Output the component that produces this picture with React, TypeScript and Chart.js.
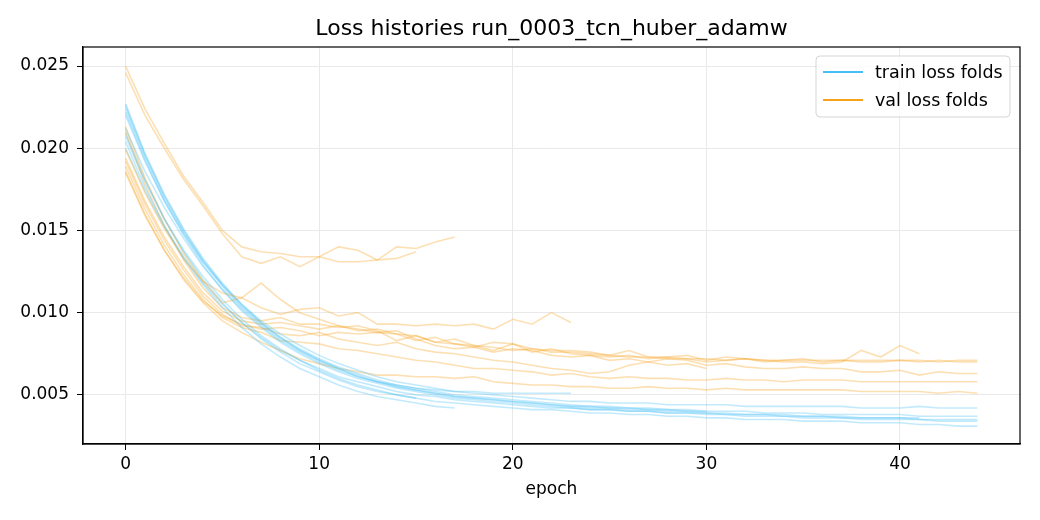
import { useEffect, useRef } from 'react';
import { Chart, registerables } from 'chart.js';

Chart.register(...registerables);

const TITLE = 'Loss histories run_0003_tcn_huber_adamw';
const X_LABEL = 'epoch';
const TRAIN_LABEL = 'train loss folds';
const VAL_LABEL = 'val loss folds';
const TRAIN_COLOR = '#45bff5';
const VAL_COLOR = '#f7a21b';
const X_TICKS = [0, 10, 20, 30, 40];
const Y_TICKS = [0.005, 0.01, 0.015, 0.02, 0.025];

// train loss per fold (one entry per epoch)
const trainA = [0.0204, 0.0176, 0.0153, 0.0133, 0.0117, 0.0103, 0.0091, 0.0081, 0.0073, 0.0066, 0.0061, 0.0056, 0.0052, 0.0049, 0.0047, 0.0045, 0.0043, 0.0042];
const trainB = [0.0207, 0.0180, 0.0157, 0.0138, 0.0122, 0.0108, 0.0096, 0.0086, 0.0078, 0.0071, 0.0065, 0.0060, 0.0056, 0.0053, 0.0050, 0.0048];
const trainC = [0.0212, 0.0186, 0.0164, 0.0145, 0.0128, 0.0114, 0.0102, 0.0092, 0.0083, 0.0076, 0.0070, 0.0065, 0.0061, 0.0058, 0.0056, 0.0054, 0.0053, 0.0052, 0.0052, 0.0051, 0.0051, 0.0051, 0.0051, 0.0051];
const trainD = [0.0227, 0.0197, 0.0172, 0.0151, 0.0133, 0.0118, 0.0105, 0.0094, 0.0085, 0.0077, 0.0071, 0.0066, 0.0062, 0.0058, 0.0055, 0.0053, 0.0051, 0.0049, 0.0048, 0.0047, 0.0046, 0.0045, 0.0044, 0.0043, 0.0043, 0.0042, 0.0042, 0.0041, 0.0041, 0.0040, 0.0040];
const trainE = [0.0224, 0.0195, 0.0170, 0.0149, 0.0131, 0.0116, 0.0103, 0.0093, 0.0084, 0.0077, 0.0071, 0.0066, 0.0061, 0.0058, 0.0055, 0.0053, 0.0051, 0.0049, 0.0048, 0.0047, 0.0046, 0.0045, 0.0044, 0.0043, 0.0042, 0.0042, 0.0041, 0.0041, 0.0040, 0.0040, 0.0039, 0.0039, 0.0038, 0.0038, 0.0038, 0.0037, 0.0037, 0.0037, 0.0036, 0.0036, 0.0036, 0.0036];
const trainF = [0.0220, 0.0192, 0.0168, 0.0148, 0.0131, 0.0117, 0.0105, 0.0095, 0.0087, 0.0080, 0.0074, 0.0069, 0.0065, 0.0061, 0.0058, 0.0056, 0.0054, 0.0052, 0.0051, 0.0050, 0.0049, 0.0048, 0.0047, 0.0046, 0.0046, 0.0045, 0.0045, 0.0045, 0.0044, 0.0044, 0.0044, 0.0044, 0.0043, 0.0043, 0.0043, 0.0043, 0.0043, 0.0043, 0.0042, 0.0042, 0.0042, 0.0043, 0.0042, 0.0042, 0.0042];
const trainG = [0.0226, 0.0196, 0.0171, 0.0150, 0.0132, 0.0117, 0.0104, 0.0094, 0.0085, 0.0078, 0.0072, 0.0067, 0.0063, 0.0059, 0.0056, 0.0054, 0.0052, 0.0050, 0.0049, 0.0048, 0.0047, 0.0046, 0.0045, 0.0044, 0.0043, 0.0043, 0.0042, 0.0042, 0.0041, 0.0041, 0.0040, 0.0040, 0.0040, 0.0039, 0.0039, 0.0039, 0.0038, 0.0038, 0.0038, 0.0038, 0.0038, 0.0037, 0.0037, 0.0037, 0.0037];
const trainH = [0.0222, 0.0193, 0.0168, 0.0147, 0.0129, 0.0114, 0.0101, 0.0091, 0.0082, 0.0075, 0.0069, 0.0064, 0.0060, 0.0057, 0.0054, 0.0052, 0.0050, 0.0048, 0.0047, 0.0046, 0.0045, 0.0044, 0.0043, 0.0042, 0.0041, 0.0041, 0.0040, 0.0040, 0.0039, 0.0039, 0.0038, 0.0038, 0.0037, 0.0037, 0.0037, 0.0036, 0.0036, 0.0036, 0.0035, 0.0035, 0.0035, 0.0035, 0.0034, 0.0034, 0.0034];
const trainI = [0.0209, 0.0181, 0.0157, 0.0137, 0.0120, 0.0106, 0.0094, 0.0084, 0.0076, 0.0069, 0.0064, 0.0059, 0.0055, 0.0052, 0.0050, 0.0048, 0.0046, 0.0045, 0.0044, 0.0043, 0.0042, 0.0041, 0.0041, 0.0040, 0.0039, 0.0039, 0.0038, 0.0038, 0.0037, 0.0037, 0.0036, 0.0036, 0.0035, 0.0035, 0.0035, 0.0034, 0.0034, 0.0034, 0.0033, 0.0033, 0.0033, 0.0032, 0.0032, 0.0031, 0.0031];
const trainJ = [0.0200, 0.0174, 0.0152, 0.0134, 0.0118, 0.0105, 0.0094, 0.0085, 0.0077, 0.0071, 0.0066, 0.0061, 0.0058, 0.0055, 0.0052, 0.0050, 0.0049, 0.0047, 0.0046, 0.0045, 0.0044, 0.0043, 0.0042, 0.0042, 0.0041, 0.0041, 0.0040, 0.0040, 0.0039, 0.0039, 0.0039, 0.0038, 0.0038, 0.0038, 0.0037, 0.0037, 0.0037, 0.0036, 0.0036, 0.0036, 0.0036, 0.0035, 0.0035, 0.0035, 0.0035];

// val loss per fold
const valA = [0.0250, 0.0224, 0.0203, 0.0183, 0.0167, 0.0150, 0.0140, 0.0137, 0.0136, 0.0134, 0.0134, 0.0140, 0.0138, 0.0132, 0.0140, 0.0139, 0.0143, 0.0146];
const valB = [0.0246, 0.0220, 0.0200, 0.0181, 0.0165, 0.0148, 0.0134, 0.0130, 0.0134, 0.0128, 0.0134, 0.0131, 0.0131, 0.0132, 0.0133, 0.0137];
const valC = [0.0199, 0.0173, 0.0151, 0.0133, 0.0119, 0.0112, 0.0109, 0.0103, 0.0099, 0.0102, 0.0103, 0.0098, 0.0100, 0.0093, 0.0093, 0.0092, 0.0093, 0.0092, 0.0093, 0.0090, 0.0096, 0.0093, 0.0100, 0.0094];
const valD = [0.0213, 0.0182, 0.0157, 0.0136, 0.0119, 0.0106, 0.0109, 0.0118, 0.0108, 0.0100, 0.0096, 0.0092, 0.0090, 0.0088, 0.0089, 0.0084, 0.0080, 0.0078, 0.0079, 0.0076, 0.0078, 0.0077, 0.0074, 0.0073, 0.0074, 0.0071, 0.0072, 0.0070, 0.0068, 0.0069, 0.0066];
const valE = [0.0210, 0.0178, 0.0153, 0.0132, 0.0115, 0.0103, 0.0097, 0.0095, 0.0097, 0.0093, 0.0093, 0.0091, 0.0092, 0.0089, 0.0083, 0.0086, 0.0082, 0.0081, 0.0079, 0.0082, 0.0081, 0.0076, 0.0078, 0.0075, 0.0074, 0.0073, 0.0074, 0.0072, 0.0073, 0.0072, 0.0070, 0.0071, 0.0072, 0.0071, 0.0070, 0.0070, 0.0069, 0.0070, 0.0077, 0.0073, 0.0080, 0.0075];
const valF = [0.0194, 0.0168, 0.0146, 0.0128, 0.0112, 0.0101, 0.0095, 0.0093, 0.0094, 0.0092, 0.0090, 0.0092, 0.0089, 0.0090, 0.0087, 0.0083, 0.0085, 0.0081, 0.0080, 0.0079, 0.0077, 0.0078, 0.0076, 0.0076, 0.0075, 0.0074, 0.0073, 0.0073, 0.0072, 0.0072, 0.0072, 0.0071, 0.0072, 0.0071, 0.0071, 0.0071, 0.0071, 0.0071, 0.0071, 0.0071, 0.0071, 0.0071, 0.0070, 0.0071, 0.0071];
const valG = [0.0192, 0.0166, 0.0144, 0.0126, 0.0110, 0.0099, 0.0092, 0.0091, 0.0087, 0.0086, 0.0088, 0.0084, 0.0082, 0.0080, 0.0082, 0.0078, 0.0076, 0.0075, 0.0073, 0.0071, 0.0070, 0.0068, 0.0066, 0.0065, 0.0063, 0.0064, 0.0068, 0.0070, 0.0072, 0.0071, 0.0068, 0.0069, 0.0067, 0.0066, 0.0066, 0.0067, 0.0066, 0.0066, 0.0064, 0.0064, 0.0065, 0.0062, 0.0064, 0.0063, 0.0063];
const valH = [0.0189, 0.0163, 0.0141, 0.0123, 0.0108, 0.0097, 0.0091, 0.0088, 0.0083, 0.0082, 0.0081, 0.0078, 0.0077, 0.0075, 0.0073, 0.0071, 0.0070, 0.0068, 0.0066, 0.0066, 0.0065, 0.0064, 0.0062, 0.0063, 0.0061, 0.0060, 0.0061, 0.0060, 0.0060, 0.0059, 0.0059, 0.0060, 0.0059, 0.0059, 0.0058, 0.0059, 0.0059, 0.0059, 0.0058, 0.0058, 0.0058, 0.0058, 0.0058, 0.0058, 0.0058];
const valI = [0.0186, 0.0160, 0.0138, 0.0120, 0.0106, 0.0095, 0.0088, 0.0082, 0.0077, 0.0072, 0.0069, 0.0066, 0.0064, 0.0062, 0.0062, 0.0061, 0.0061, 0.0060, 0.0061, 0.0058, 0.0057, 0.0056, 0.0056, 0.0055, 0.0055, 0.0054, 0.0054, 0.0055, 0.0054, 0.0054, 0.0053, 0.0054, 0.0053, 0.0053, 0.0053, 0.0053, 0.0053, 0.0053, 0.0052, 0.0052, 0.0052, 0.0052, 0.0051, 0.0052, 0.0051];
const valJ = [0.0185, 0.0159, 0.0138, 0.0121, 0.0107, 0.0098, 0.0093, 0.0090, 0.0091, 0.0089, 0.0086, 0.0088, 0.0087, 0.0088, 0.0087, 0.0086, 0.0082, 0.0084, 0.0080, 0.0077, 0.0081, 0.0078, 0.0077, 0.0077, 0.0076, 0.0074, 0.0077, 0.0073, 0.0073, 0.0074, 0.0071, 0.0073, 0.0072, 0.0070, 0.0071, 0.0072, 0.0070, 0.0071, 0.0070, 0.0070, 0.0071, 0.0070, 0.0071, 0.0070, 0.0070];

const trainFolds = [trainA, trainB, trainC, trainD, trainE, trainF, trainG, trainH, trainI, trainJ];
const valFolds = [valA, valB, valC, valD, valE, valF, valG, valH, valI, valJ];

const FONT = '"DejaVu Sans", sans-serif';

function withAlpha(hex: string, a: number) {
  const n = parseInt(hex.slice(1), 16);
  return `rgba(${(n >> 16) & 255}, ${(n >> 8) & 255}, ${n & 255}, ${a})`;
}

// title centred over the axes, frame around the plot area, boxed legend top right
const framePlugin = {
  id: 'frameAndLegend',
  afterDraw(chart: Chart) {
    const { ctx, chartArea } = chart;
    ctx.save();
    ctx.fillStyle = '#000';
    ctx.font = `22px ${FONT}`;
    ctx.textAlign = 'center';
    ctx.textBaseline = 'middle';
    ctx.fillText(TITLE, (chartArea.left + chartArea.right) / 2, 29);

    ctx.strokeStyle = '#000';
    ctx.lineWidth = 1.2;
    ctx.strokeRect(chartArea.left, chartArea.top, chartArea.right - chartArea.left, chartArea.bottom - chartArea.top);

    const w = 194, h = 61;
    const x = chartArea.right - 10 - w;
    const y = chartArea.top + 9;
    ctx.beginPath();
    ctx.roundRect(x, y, w, h, 4);
    ctx.fillStyle = 'rgba(255,255,255,0.8)';
    ctx.fill();
    ctx.strokeStyle = '#d5d5d5';
    ctx.lineWidth = 1;
    ctx.stroke();

    const entries = [[TRAIN_LABEL, TRAIN_COLOR], [VAL_LABEL, VAL_COLOR]];
    ctx.font = `17.5px ${FONT}`;
    ctx.textAlign = 'left';
    entries.forEach(([label, color], i) => {
      const ly = y + 16 + i * 28;
      ctx.strokeStyle = color;
      ctx.lineWidth = 2.2;
      ctx.beginPath();
      ctx.moveTo(x + 7, ly);
      ctx.lineTo(x + 47, ly);
      ctx.stroke();
      ctx.fillStyle = '#000';
      ctx.fillText(label, x + 59, ly + 1);
    });
    ctx.restore();
  },
};

export default function App() {
  const canvasRef = useRef<HTMLCanvasElement>(null);
  const chartRef = useRef<Chart | null>(null);

  useEffect(() => {
    document.body.style.margin = '0';
    if (!canvasRef.current) return;
    const ctx = canvasRef.current.getContext('2d');
    if (!ctx) return;

    if (chartRef.current) chartRef.current.destroy();

    const datasets: any[] = [];
    trainFolds.forEach((fold, k) => {
      datasets.push({
        label: TRAIN_LABEL,
        data: fold.map((v, i) => ({ x: i, y: v })),
        borderColor: withAlpha(TRAIN_COLOR, 0.33),
        borderWidth: 1.6,
        pointRadius: 0,
        tension: 0,
      });
      datasets.push({
        label: VAL_LABEL,
        data: valFolds[k].map((v, i) => ({ x: i, y: v })),
        borderColor: withAlpha(VAL_COLOR, 0.33),
        borderWidth: 1.6,
        pointRadius: 0,
        tension: 0,
      });
    });

    chartRef.current = new Chart(ctx, {
      type: 'line',
      data: { datasets },
      options: {
        animation: false,
        responsive: true,
        maintainAspectRatio: false,
        layout: { padding: { left: 0, right: 20, top: 47, bottom: 0 } },
        plugins: {
          legend: { display: false },
          tooltip: { enabled: false },
          title: { display: false },
        },
        scales: {
          x: {
            type: 'linear',
            min: -2.2,
            max: 46.2,
            afterBuildTicks: (scale: any) => {
              scale.ticks = X_TICKS.map(v => ({ value: v }));
            },
            afterFit: (scale: any) => {
              scale.height = 76;
            },
            grid: { color: '#e9e9e9', tickColor: '#000', tickLength: 6, lineWidth: 1 },
            border: { display: true, color: '#000', width: 1.2 },
            ticks: {
              color: '#000',
              font: { family: FONT, size: 17 },
              padding: 4,
              maxRotation: 0,
              callback: (v: any) => String(v),
            },
            title: {
              display: true,
              text: X_LABEL,
              color: '#000',
              font: { family: FONT, size: 17 },
              padding: { top: 0, bottom: 20 },
            },
          },
          y: {
            type: 'linear',
            min: 0.00201,
            max: 0.02616,
            afterBuildTicks: (scale: any) => {
              scale.ticks = Y_TICKS.map(v => ({ value: v }));
            },
            afterFit: (scale: any) => {
              scale.width = 83;
            },
            grid: { color: '#e9e9e9', tickColor: '#000', tickLength: 6, lineWidth: 1 },
            border: { display: true, color: '#000', width: 1.2 },
            ticks: {
              color: '#000',
              font: { family: FONT, size: 17 },
              padding: 8,
              callback: (v: any) => Number(v).toFixed(3),
            },
          },
        },
      },
      plugins: [framePlugin],
    });

    return () => {
      if (chartRef.current) {
        chartRef.current.destroy();
        chartRef.current = null;
      }
    };
  }, []);

  return (
    <div style={{ width: 1040, height: 520, background: '#fff' }}>
      <canvas ref={canvasRef}></canvas>
    </div>
  );
}
